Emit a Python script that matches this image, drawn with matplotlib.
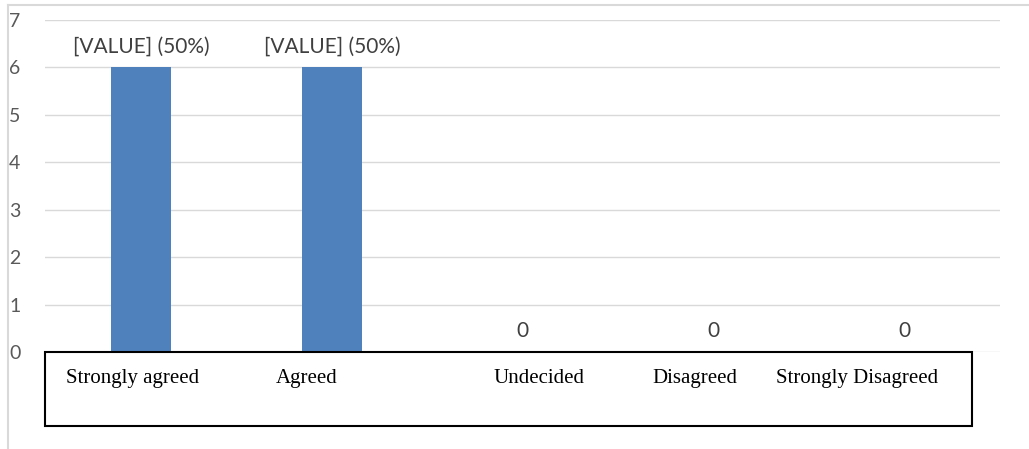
import matplotlib.pyplot as plt
from matplotlib.patches import Rectangle
from matplotlib.lines import Line2D

categories = ["Strongly agreed", "Agreed", "Undecided", "Disagreed", "Strongly Disagreed"]
counts = [6, 6, 0, 0, 0]
value_labels = ["[VALUE] (50%)", "[VALUE] (50%)", "0", "0", "0"]
yticks = [0, 1, 2, 3, 4, 5, 6, 7]

BAR_COLOR = "#4f81bd"
GRID_COLOR = "#d9d9d9"
TEXT_COLOR = "#595959"

fig = plt.figure(figsize=(10.29, 4.49), dpi=100)
ax = fig.add_axes([0.0442, 0.216, 0.9276, 0.7395])

x = list(range(len(categories)))
ax.bar(x, counts, width=0.314, color=BAR_COLOR, zorder=2)

ax.set_xlim(-0.5, len(categories) - 0.5)
ax.set_ylim(0, 7)
ax.set_yticks(yticks)
ax.set_yticklabels([str(t) for t in yticks], fontsize=14, color=TEXT_COLOR,
                   family="Lato")
ax.tick_params(axis="y", length=0, pad=18)
ax.tick_params(axis="x", length=0, labelbottom=False)
ax.grid(axis="y", color=GRID_COLOR, linewidth=1, zorder=0)
for s in ax.spines.values():
    s.set_visible(False)

# data labels
for xi, v, lab in zip(x, counts, value_labels):
    ax.annotate(lab, (xi, v), xytext=(0, 8), textcoords="offset points",
                ha="center", va="bottom", fontsize=15, color="#404040",
                family="Lato")

# text box holding the category names
box = Rectangle((45 / 1029, 1 - 426 / 449), (972 - 45) / 1029, (426 - 352) / 449,
                transform=fig.transFigure, facecolor="white", edgecolor="black",
                linewidth=1.5, zorder=5)
fig.patches.append(box)
label_x = [133, 307, 539, 695, 857]
for lx, name in zip(label_x, categories):
    fig.text(lx / 1029, 1 - 383 / 449, name, ha="center", va="baseline",
             fontsize=15, family="Liberation Serif", color="black", zorder=6)

# chart frame (partly cropped)
fig.lines.append(Line2D([8 / 1029, 1], [1 - 5 / 449, 1 - 5 / 449],
                        transform=fig.transFigure, color=GRID_COLOR, linewidth=1.5))
fig.lines.append(Line2D([8 / 1029, 8 / 1029], [0, 1 - 5 / 449],
                        transform=fig.transFigure, color=GRID_COLOR, linewidth=1.5))

fig.savefig("out.png", dpi=100)
